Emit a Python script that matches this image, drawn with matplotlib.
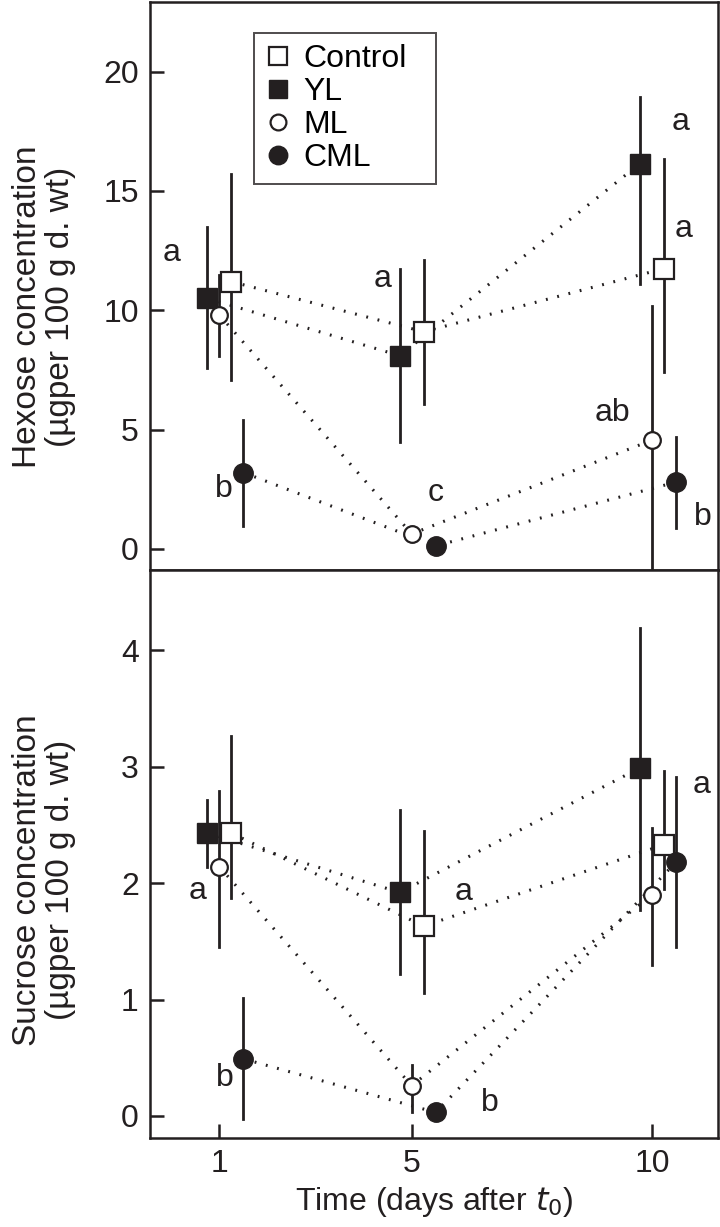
import matplotlib
matplotlib.use("Agg")
import matplotlib.pyplot as plt
import numpy as np

plt.rcParams['font.family'] = ['Liberation Sans', 'DejaVu Sans']

days = np.array([1, 5, 10])
series = ["Control", "YL", "ML", "CML"]
offsets = {"YL": -0.25, "ML": 0.0, "Control": 0.25, "CML": 0.5}

# hexose (ug per 100 g d. wt): mean, lower end, upper end of bar
hex_mean = {
    "Control": [11.2, 9.1, 11.75],
    "YL": [10.5, 8.1, 16.15],
    "ML": [9.8, 0.63, 4.56],
    "CML": [3.2, 0.13, 2.8],
}
hex_lo = {
    "Control": [7.1, 6.07, 7.4],
    "YL": [7.6, 4.5, 11.1],
    "ML": [8.1, 0.63, -1.1],
    "CML": [0.96, 0.13, 0.88],
}
hex_hi = {
    "Control": [15.7, 12.1, 16.36],
    "YL": [13.5, 11.75, 18.95],
    "ML": [11.5, 0.63, 10.2],
    "CML": [5.4, 0.13, 4.69],
}

# sucrose
suc_mean = {
    "Control": [2.43, 1.63, 2.33],
    "YL": [2.43, 1.92, 2.99],
    "ML": [2.14, 0.26, 1.90],
    "CML": [0.49, 0.03, 2.18],
}
suc_lo = {
    "Control": [1.87, 1.06, 1.95],
    "YL": [2.14, 1.22, 1.77],
    "ML": [1.45, 0.03, 1.30],
    "CML": [-0.03, 0.03, 1.45],
}
suc_hi = {
    "Control": [3.26, 2.45, 2.96],
    "YL": [2.71, 2.63, 4.19],
    "ML": [2.79, 0.44, 2.47],
    "CML": [1.01, 0.03, 2.91],
}

hex_letters = [("a", 0.01, 12.4), ("b", 1.1, 2.5), ("a", 4.4, 11.3), ("c", 5.5, 2.35),
               ("a", 10.6, 17.9), ("a", 10.65, 13.4), ("ab", 9.18, 5.7), ("b", 11.05, 1.35)]
suc_letters = [("a", 0.55, 1.93), ("b", 1.11, 0.33), ("a", 6.08, 1.92),
               ("b", 6.62, 0.11), ("a", 11.03, 2.84)]

styles = {
    "Control": dict(marker="s", mfc="white", mec="#231f20", ms=14, mew=1.6),
    "YL": dict(marker="s", mfc="#231f20", mec="#231f20", ms=14, mew=1.0),
    "ML": dict(marker="o", mfc="white", mec="#231f20", ms=12, mew=1.6),
    "CML": dict(marker="o", mfc="#231f20", mec="#231f20", ms=14, mew=1.0),
}
ink = "#231f20"
fs = 23

fig = plt.figure(figsize=(7.2, 12.27), dpi=100)
ax1 = fig.add_axes([0.2083, 0.5355, 0.7887, 0.4625])
ax2 = fig.add_axes([0.2083, 0.0725, 0.7887, 0.4630])


def draw(ax, mean, lo, hi, letters, clip_ml=False):
    for s in ["YL", "Control", "ML", "CML"]:
        x = days + offsets[s]
        m = np.array(mean[s])
        ax.plot(x, m, linestyle=(0, (0.6, 3.2)), color=ink, lw=2.2, zorder=2)
    for s in ["YL", "Control", "ML", "CML"]:
        x = days + offsets[s]
        for xi, l, h in zip(x, lo[s], hi[s]):
            ax.plot([xi, xi], [l, h], color=ink, lw=2.0, zorder=3,
                    clip_on=not clip_ml)
        ax.plot(x, mean[s], linestyle="none", zorder=4, label=s, **styles[s])
    for t, x, y in letters:
        ax.text(x, y, t, fontsize=fs, ha="center", va="center", color=ink)
    ax.set_xlim(-0.445, 11.37)
    for sp in ax.spines.values():
        sp.set_linewidth(1.8)
        sp.set_color(ink)
    ax.tick_params(direction="in", length=10, width=1.8, labelsize=fs,
                   colors=ink, pad=8)


draw(ax1, hex_mean, hex_lo, hex_hi, hex_letters, clip_ml=True)
draw(ax2, suc_mean, suc_lo, suc_hi, suc_letters)

ax1.set_ylim(-0.88, 22.9)
ax1.set_yticks([0, 5, 10, 15, 20])
ax1.set_xticks([])
ax2.set_ylim(-0.19, 4.69)
ax2.set_yticks([0, 1, 2, 3, 4])
ax2.set_xticks(days)
ax2.set_xticklabels([str(d) for d in days])

ax1.set_ylabel("Hexose concentration\n(\u00b5gper 100 g d. wt)", fontsize=24,
               linespacing=1.1, color=ink)
ax2.set_ylabel("Sucrose concentration\n(\u00b5gper 100 g d. wt)", fontsize=24,
               linespacing=1.1, color=ink)
ax1.yaxis.set_label_coords(-0.13, 0.463)
ax2.yaxis.set_label_coords(-0.13, 0.454)
ax2.set_xlabel("Time (days after $t_0$)", fontsize=fs, color=ink, labelpad=4)

handles, labels = ax1.get_legend_handles_labels()
order = [labels.index(s) for s in series]
leg = ax1.legend([handles[i] for i in order], [labels[i] for i in order],
                 loc="upper left", bbox_to_anchor=(0.183, 0.5, 0.32, 0.447),
                 mode="expand", fontsize=fs,
                 frameon=True, fancybox=False, handlelength=0.8,
                 handletextpad=0.4, labelspacing=0.1, borderpad=0.35,
                 borderaxespad=0, markerscale=0.95)
leg.get_frame().set_edgecolor(ink)
leg.get_frame().set_linewidth(1.4)

fig.savefig("out.png", dpi=100)
